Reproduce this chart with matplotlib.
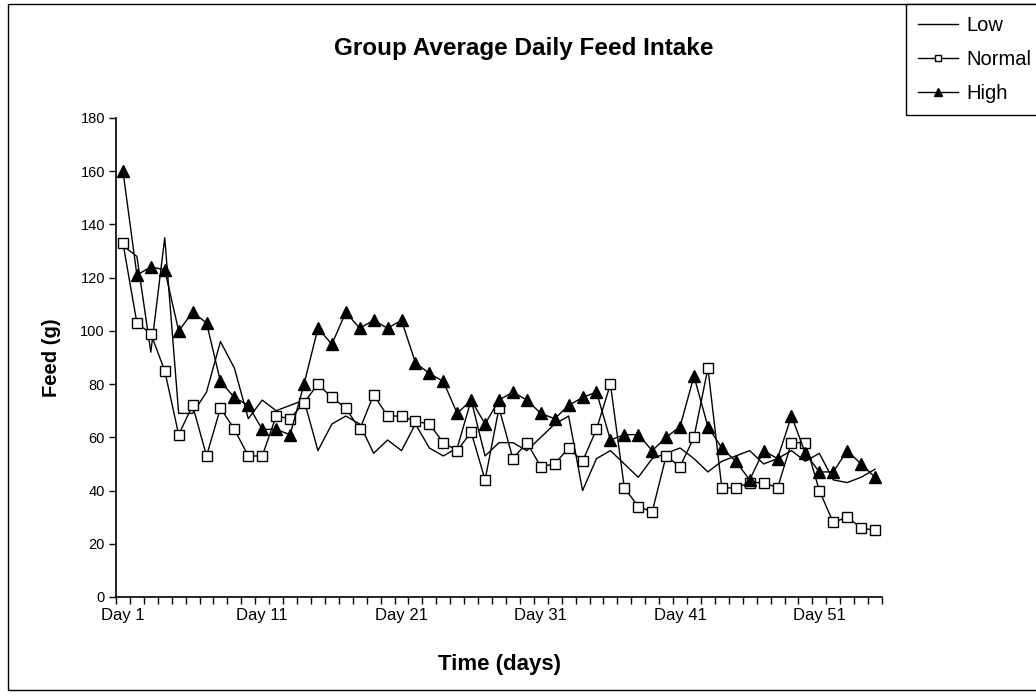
import numpy as np
import matplotlib.pyplot as plt
from matplotlib.lines import Line2D
from matplotlib.patches import Rectangle

plt.rcParams['font.family'] = ['Liberation Sans', 'DejaVu Sans']

days = np.arange(1, 56)
low = [132, 128, 92, 135, 69, 69, 77, 96, 86, 67, 74, 70, 72, 74, 55, 65, 68, 65, 54, 59,
       55, 65, 56, 53, 56, 74, 53, 58, 58, 55, 60, 65, 68, 40, 52, 55, 50, 45, 52, 54,
       56, 52, 47, 51, 53, 55, 50, 52, 55, 51, 54, 44, 43, 45, 48]
normal = [133, 103, 99, 85, 61, 72, 53, 71, 63, 53, 53, 68, 67, 73, 80, 75, 71, 63, 76, 68,
          68, 66, 65, 58, 55, 62, 44, 71, 52, 58, 49, 50, 56, 51, 63, 80, 41, 34, 32, 53,
          49, 60, 86, 41, 41, 43, 43, 41, 58, 58, 40, 28, 30, 26, 25]
high = [160, 121, 124, 123, 100, 107, 103, 81, 75, 72, 63, 63, 61, 80, 101, 95, 107, 101, 104, 101,
        104, 88, 84, 81, 69, 74, 65, 74, 77, 74, 69, 67, 72, 75, 77, 59, 61, 61, 55, 60,
        64, 83, 64, 56, 51, 44, 55, 52, 68, 54, 47, 47, 55, 50, 45]
tick_days = [1, 11, 21, 31, 41, 51]
tick_labels = ['Day %d' % d for d in tick_days]

W, H = 1036, 698
fig = plt.figure(figsize=(W / 100, H / 100), dpi=100)
ax = fig.add_axes([116 / W, 1 - 597 / H, (882 - 116) / W, (597 - 118) / H])

ax.plot(days, low, color='black', lw=1.0, label='Low', zorder=2)
ax.plot(days, normal, color='black', lw=1.0, marker='s', ms=7.5, mfc='white',
        mec='black', mew=1.0, label='Normal', zorder=3)
ax.plot(days, high, color='black', lw=1.0, marker='^', ms=8.5, mfc='black',
        mec='black', label='High', zorder=4)

ax.set_xlim(0.5, 55.5)
ax.set_ylim(0, 180)
ax.set_yticks(range(0, 181, 20))
ax.set_xticks(tick_days)
ax.set_xticklabels(tick_labels)
ax.set_xticks(np.arange(0.5, 56, 1), minor=True)
ax.tick_params(axis='x', which='major', length=0, pad=8, labelsize=12)
ax.tick_params(axis='x', which='minor', length=5, direction='out', width=1)
ax.tick_params(axis='y', length=5, direction='out', width=1, labelsize=10.5, pad=3)
for s in ['top', 'right']:
    ax.spines[s].set_visible(False)
for s in ['left', 'bottom']:
    ax.spines[s].set_linewidth(1.2)

ax.set_xlabel('Time (days)', fontsize=16, fontweight='bold', labelpad=22)
ax.set_ylabel('Feed (g)', fontsize=14.5, fontweight='bold', labelpad=14)
fig.text(524 / W, 1 - 48 / H, 'Group Average Daily Feed Intake', ha='center', va='center',
         fontsize=17.5, fontweight='bold')

# chart area border
fig.patches.append(Rectangle((8 / W, 8 / H), 1.1, 1 - 12 / H, transform=fig.transFigure,
                             fill=False, edgecolor='black', lw=1.0))

handles = [Line2D([], [], color='black', lw=1.0),
           Line2D([], [], color='black', lw=1.0, marker='s', ms=5, mfc='white', mec='black'),
           Line2D([], [], color='black', lw=1.0, marker='^', ms=6, mfc='black')]
leg = fig.legend(handles, ['Low', 'Normal', 'High'], loc='upper left',
                 bbox_to_anchor=(906 / W, 1 - 4 / H), frameon=True, fancybox=False,
                 edgecolor='black', borderaxespad=0, handlelength=2.0, handletextpad=0.4,
                 labelspacing=0.75, fontsize=14.5, borderpad=0.6)
leg.get_frame().set_linewidth(1.0)
leg.get_frame().set_facecolor('white')
leg.get_frame().set_alpha(1)

fig.savefig('out.png', dpi=100)
